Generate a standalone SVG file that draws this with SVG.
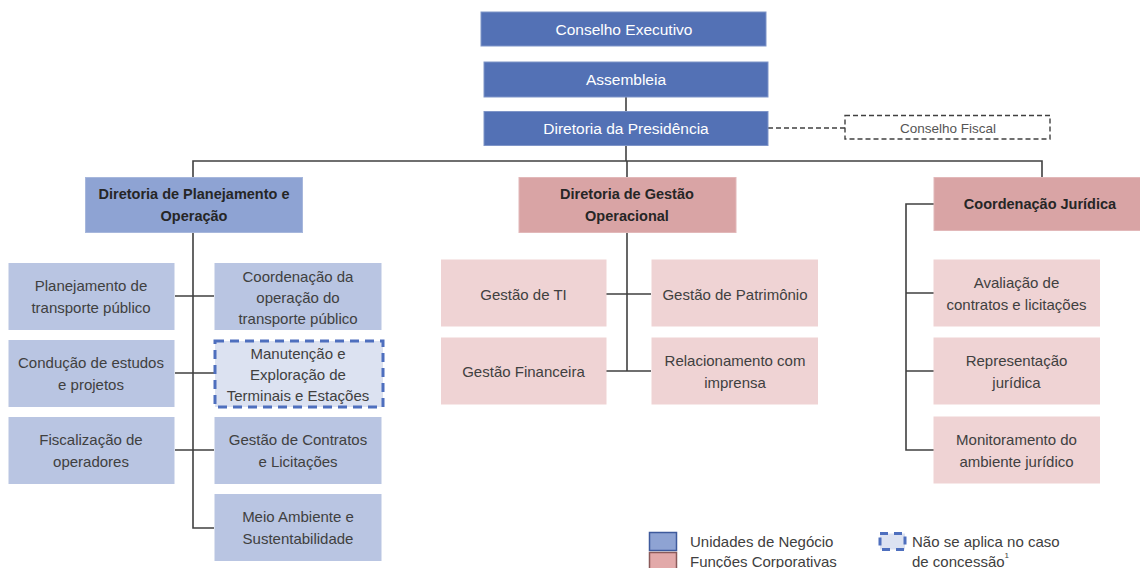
<svg xmlns="http://www.w3.org/2000/svg" width="1140" height="568" viewBox="0 0 1140 568">
<style>
text{font-family:"Liberation Sans",Arial,sans-serif;text-anchor:middle;dominant-baseline:central}
.top rect{fill:#5371B5;stroke:#7f95c8;stroke-width:1}
.top text{fill:#fff;font-size:15.5px}
.dirB rect{fill:#8EA3D3;stroke:#a7b7dc;stroke-width:1}
.dirP rect{fill:#D9A4A5;stroke:#e2b8b9;stroke-width:1}
.dir text{fill:#262626;font-size:14.5px;font-weight:bold}
.cB rect{fill:#B9C5E2}
.cP rect{fill:#EFD3D4}
.c text{fill:#404040;font-size:15px}
.dash rect{fill:#DCE2F1;stroke:#4E6FBE;stroke-width:3;stroke-dasharray:9 6}
.conn path{fill:none;stroke:#404040;stroke-width:1.6}
.conn .d{stroke-dasharray:5 3;stroke-width:1.4}
.leg text{text-anchor:start;fill:#404040;font-size:15px}
</style>

<g class="conn" id="connectors">
<path d="M626 97V112"/>
<path d="M626 145V161"/>
<path d="M193 177V161H1042V177"/>
<path d="M627 161V177"/>
<path class="d" d="M768 128H845"/>
<path d="M193 232V528H214"/>
<path d="M175 296H214M175 373H214M175 450H214"/>
<path d="M627 232V371"/>
<path d="M606 294H651M606 371H651"/>
<path d="M934 204H906V450H934M906 293H934M906 371H934"/>
</g>

<g id="conselho-executivo" class="top"><rect x="481" y="12" width="285" height="34"/><text x="624" y="29">Conselho Executivo</text></g>
<g id="assembleia" class="top"><rect x="484" y="62" width="284" height="35"/><text x="626" y="79.5">Assembleia</text></g>
<g id="diretoria-presidencia" class="top"><rect x="484" y="111.5" width="284" height="34"/><text x="626" y="128.5">Diretoria da Presidência</text></g>
<g id="conselho-fiscal"><rect x="845" y="115.5" width="205" height="23.5" fill="#fff" stroke="#404040" stroke-width="1.4" stroke-dasharray="5 3"/><text x="948" y="128" style="fill:#555;font-size:13.5px">Conselho Fiscal</text></g>

<g id="dir-planejamento" class="dir dirB"><rect x="85.5" y="177.5" width="217" height="55"/><text x="194" y="194">Diretoria de Planejamento e</text><text x="194" y="216">Operação</text></g>
<g id="dir-gestao" class="dir dirP"><rect x="519" y="177.5" width="217" height="55"/><text x="627" y="194">Diretoria de Gestão</text><text x="627" y="216">Operacional</text></g>
<g id="coord-juridica" class="dir dirP"><rect x="934" y="177.5" width="210" height="53"/><text x="1040" y="204">Coordenação Jurídica</text></g>

<g id="planejamento-transporte" class="c cB"><rect x="8.5" y="263" width="166" height="67"/><text x="91" y="285.5">Planejamento de</text><text x="91" y="307">transporte público</text></g>
<g id="conducao-estudos" class="c cB"><rect x="8.5" y="340" width="166" height="67"/><text x="91" y="362.5">Condução de estudos</text><text x="91" y="384">e projetos</text></g>
<g id="fiscalizacao" class="c cB"><rect x="8.5" y="417" width="166" height="67"/><text x="91" y="439.5">Fiscalização de</text><text x="91" y="461">operadores</text></g>

<g id="coordenacao-operacao" class="c cB"><rect x="214.5" y="263" width="167" height="67"/><text x="298" y="276">Coordenação da</text><text x="298" y="297">operação do</text><text x="298" y="318">transporte público</text></g>
<g id="manutencao" class="c dash"><rect x="215" y="341" width="168" height="66"/><text x="298" y="353">Manutenção  e</text><text x="298" y="374">Exploração de</text><text x="298" y="395">Terminais e Estações</text></g>
<g id="gestao-contratos" class="c cB"><rect x="214.5" y="417" width="167" height="67"/><text x="298" y="439.5">Gestão de Contratos</text><text x="298" y="461">e Licitações</text></g>
<g id="meio-ambiente" class="c cB"><rect x="214.5" y="494" width="167" height="67"/><text x="298" y="516.5">Meio Ambiente e</text><text x="298" y="538">Sustentabilidade</text></g>

<g id="gestao-ti" class="c cP"><rect x="441" y="259.5" width="165.5" height="67"/><text x="523.5" y="294">Gestão de TI</text></g>
<g id="gestao-patrimonio" class="c cP"><rect x="651.5" y="259.5" width="166.5" height="67"/><text x="735" y="294">Gestão de Patrimônio</text></g>
<g id="gestao-financeira" class="c cP"><rect x="441" y="337.5" width="165.5" height="67"/><text x="523.5" y="371">Gestão Financeira</text></g>
<g id="relacionamento-imprensa" class="c cP"><rect x="651.5" y="337.5" width="166.5" height="67"/><text x="735" y="360">Relacionamento com</text><text x="735" y="382">imprensa</text></g>

<g id="avaliacao-contratos" class="c cP"><rect x="933.5" y="259.5" width="166.5" height="67"/><text x="1016.5" y="282">Avaliação de</text><text x="1016.5" y="304">contratos e licitações</text></g>
<g id="representacao-juridica" class="c cP"><rect x="933.5" y="337.5" width="166.5" height="67"/><text x="1016.5" y="360">Representação</text><text x="1016.5" y="382">jurídica</text></g>
<g id="monitoramento" class="c cP"><rect x="933.5" y="416.5" width="166.5" height="67"/><text x="1016.5" y="439">Monitoramento do</text><text x="1016.5" y="461">ambiente jurídico</text></g>

<g id="legend" class="leg">
<rect x="649.5" y="532.5" width="27" height="18" fill="#8EA3D3" stroke="#3E5A9C" stroke-width="1.5"/>
<rect x="649.5" y="552.5" width="27" height="18" fill="#E2A9A9" stroke="#8A5A5A" stroke-width="1.5"/>
<text x="690" y="541">Unidades de Negócio</text>
<text x="690" y="561">Funções Corporativas</text>
<rect x="880" y="533.5" width="25" height="16" fill="#DCE2F1" stroke="#4E6FBE" stroke-width="3" stroke-dasharray="8 6"/>
<text x="912" y="541">Não se aplica no caso</text>
<text x="912" y="561">de concessão<tspan dy="-6" style="font-size:8px">1</tspan></text>
</g>
</svg>
